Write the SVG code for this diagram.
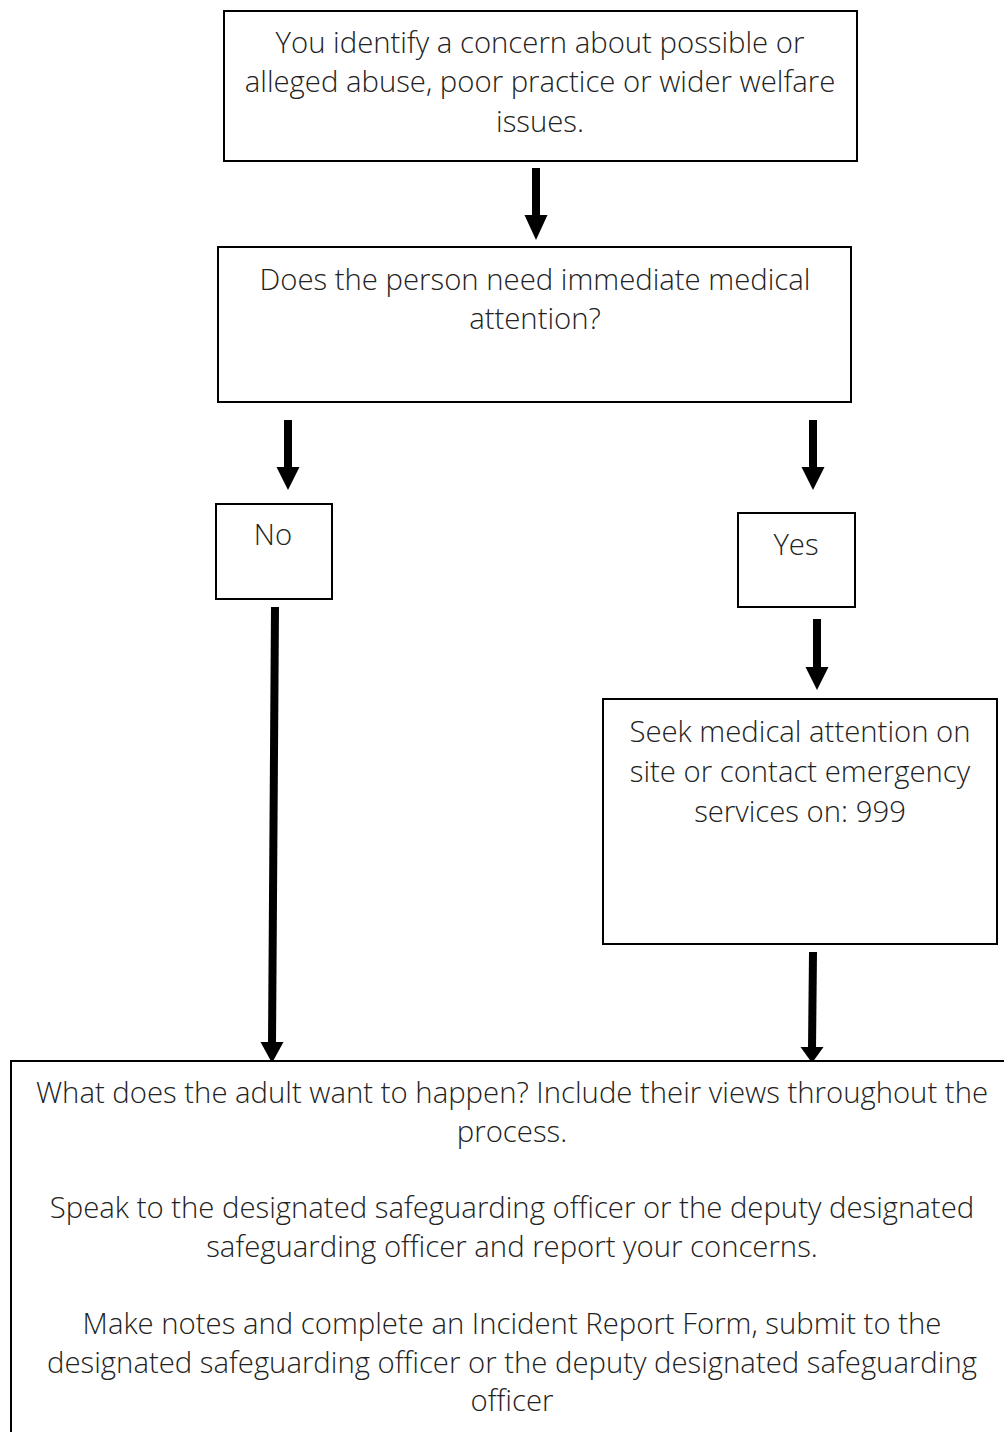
<svg xmlns="http://www.w3.org/2000/svg" width="1004" height="1432" viewBox="0 0 1004 1432">
<style>
.box{fill:#fff;stroke:#000;stroke-width:2}
.t{font-family:"Open Sans","Liberation Sans",sans-serif;font-weight:300;font-size:29.3px;fill:#222;text-anchor:middle}
.shaft{stroke:#000;stroke-width:8;fill:none}
.head{fill:#000}
</style>
<rect width="1004" height="1432" fill="#fff"/>
<g id="connectors">
  <line class="shaft" x1="536" y1="168" x2="536" y2="217"/>
  <polygon class="head" points="524.5,215 547.5,215 536,240"/>
  <line class="shaft" x1="288" y1="420" x2="288" y2="469"/>
  <polygon class="head" points="276.5,467 299.5,467 288,490"/>
  <line class="shaft" x1="813" y1="420" x2="813" y2="469"/>
  <polygon class="head" points="801.5,467 824.5,467 813,490"/>
  <line class="shaft" x1="817" y1="619" x2="817" y2="669"/>
  <polygon class="head" points="805.5,667 828.5,667 817,690"/>
  <line class="shaft" x1="275" y1="607" x2="272" y2="1044"/>
  <polygon class="head" points="260.5,1042 283.5,1042 272,1063"/>
  <line class="shaft" x1="813" y1="952" x2="812" y2="1049"/>
  <polygon class="head" points="800.5,1047 823.5,1047 812,1063"/>
</g>
<g id="n1">
  <rect class="box" x="224" y="11" width="633" height="150"/>
  <text class="t" x="540" y="53">You identify a concern about possible or</text>
  <text class="t" x="540" y="92">alleged abuse, poor practice or wider welfare</text>
  <text class="t" x="540" y="132">issues.</text>
</g>
<g id="n2">
  <rect class="box" x="218" y="247" width="633" height="155"/>
  <text class="t" x="535" y="290">Does the person need immediate medical</text>
  <text class="t" x="535" y="329">attention?</text>
</g>
<g id="n3">
  <rect class="box" x="216" y="504" width="116" height="95"/>
  <text class="t" x="273" y="545">No</text>
</g>
<g id="n4">
  <rect class="box" x="738" y="513" width="117" height="94"/>
  <text class="t" x="796" y="555">Yes</text>
</g>
<g id="n5">
  <rect class="box" x="603" y="699" width="394" height="245"/>
  <text class="t" x="800" y="742">Seek medical attention on</text>
  <text class="t" x="800" y="782">site or contact emergency</text>
  <text class="t" x="800" y="822">services on: 999</text>
</g>
<g id="n6">
  <rect class="box" x="11" y="1061" width="1010" height="400"/>
  <text class="t" x="512" y="1103">What does the adult want to happen? Include their views throughout the</text>
  <text class="t" x="512" y="1142">process.</text>
  <text class="t" x="512" y="1218">Speak to the designated safeguarding officer or the deputy designated</text>
  <text class="t" x="512" y="1257">safeguarding officer and report your concerns.</text>
  <text class="t" x="512" y="1334">Make notes and complete an Incident Report Form, submit to the</text>
  <text class="t" x="512" y="1373">designated safeguarding officer or the deputy designated safeguarding</text>
  <text class="t" x="512" y="1411">officer</text>
</g>
</svg>
